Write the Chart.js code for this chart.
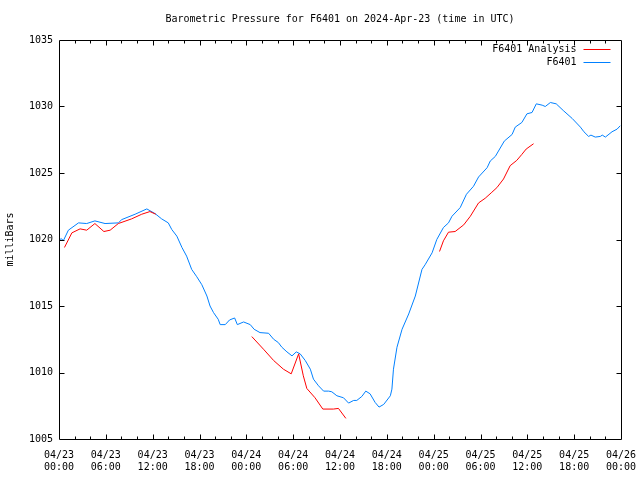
<!DOCTYPE html>
<html>
<head>
<meta charset="utf-8">
<script src="https://cdn.jsdelivr.net/npm/chart.js@4"></script>
<style>
  html, body { margin: 0; padding: 0; background: #fff; }
  #wrap { width: 640px; height: 480px; }
</style>
</head>
<body>
<div id="wrap"><canvas id="pressureChart" width="640" height="480"></canvas></div>
<script>
// hours since 2024-04-23 00:00 UTC
const stationHours = [0, 0.35, 0.55, 1.2, 2.5, 3.55, 4.6, 5.9, 7.6, 8.05, 9.75, 11.25, 12.3, 13.15, 14.0, 14.45,
    15.1, 15.75, 16.35, 17.0, 17.65, 18.3, 18.95, 19.35, 19.8, 20.4, 20.65, 21.3, 21.85, 22.5, 22.85, 23.65,
    24.5, 25.0, 25.75, 26.85, 27.5, 28.1, 28.55, 29.2, 29.85, 30.4, 30.9, 31.55, 32.2, 32.6, 33.25, 33.9,
    34.55, 34.95, 35.6, 36.45, 37.1, 37.75, 38.15, 38.8, 39.3, 39.85, 40.5, 41.0, 41.6, 42.45, 42.65, 42.85,
    43.3, 43.95, 44.8, 45.65, 46.5, 46.9, 47.8, 48.4, 49.25, 49.9, 50.35, 51.4, 52.2, 53.1, 53.75, 54.85,
    55.25, 55.9, 57.05, 58.05, 58.45, 59.3, 59.95, 60.6, 61.15, 61.9, 62.3, 62.95, 63.7, 64.6, 65.75, 66.8,
    67.25, 67.85, 68.15, 68.7, 69.35, 69.6, 70.0, 70.85, 71.5, 71.9];
const stationPressure = [1020.0, 1020.05, 1019.9, 1020.7, 1021.25, 1021.2, 1021.4, 1021.2, 1021.25, 1021.5, 1021.9, 1022.3, 1021.95, 1021.55, 1021.25, 1020.75,
    1020.25, 1019.4, 1018.75, 1017.75, 1017.2, 1016.6, 1015.75, 1015.0, 1014.5, 1014.0, 1013.6, 1013.6, 1013.95, 1014.1, 1013.6, 1013.8,
    1013.6, 1013.25, 1013.0, 1012.95, 1012.5, 1012.25, 1011.9, 1011.55, 1011.25, 1011.55, 1011.4, 1010.9, 1010.25, 1009.5, 1009.0, 1008.6,
    1008.6, 1008.55, 1008.25, 1008.1, 1007.7, 1007.9, 1007.9, 1008.2, 1008.6, 1008.4, 1007.75, 1007.4, 1007.6, 1008.25, 1008.75, 1010.25,
    1011.9, 1013.25, 1014.4, 1015.75, 1017.75, 1018.1, 1019.0, 1020.0, 1020.9, 1021.25, 1021.75, 1022.4, 1023.4, 1024.0, 1024.7, 1025.4,
    1025.9, 1026.25, 1027.4, 1027.9, 1028.45, 1028.8, 1029.45, 1029.55, 1030.2, 1030.1, 1030.0, 1030.3, 1030.2, 1029.7, 1029.1, 1028.45,
    1028.1, 1027.75, 1027.85, 1027.7, 1027.75, 1027.85, 1027.7, 1028.1, 1028.3, 1028.55];

// analysis runs, null marks a break between runs
const analysisHours = [0.7, 1.65, 2.7, 3.55, 4.6, 5.75, 6.55, 7.6, 9.3, 10.6, 11.65, 12.4,
    18,
    24.7, 26.2, 27.5, 28.75, 29.75, 30.7, 31.3, 31.75, 32.8, 33.8, 35.15, 35.8, 36.75,
    42,
    48.75, 49.25, 49.9, 50.75, 51.85, 52.7, 53.75, 54.6, 55.45, 56.1, 56.95, 57.8, 58.65, 59.3, 59.85, 60.8];
const analysisPressure = [1019.4, 1020.5, 1020.8, 1020.7, 1021.2, 1020.6, 1020.7, 1021.2, 1021.55, 1021.9, 1022.1, 1021.9,
    null,
    1012.7, 1011.75, 1010.9, 1010.25, 1009.9, 1011.4, 1009.75, 1008.8, 1008.1, 1007.25, 1007.25, 1007.3, 1006.55,
    null,
    1019.1, 1019.9, 1020.55, 1020.6, 1021.1, 1021.75, 1022.75, 1023.1, 1023.55, 1023.9, 1024.55, 1025.55, 1025.95, 1026.4, 1026.8, 1027.2];

const tickDates = ["04/23", "04/23", "04/23", "04/23", "04/24", "04/24", "04/24", "04/24", "04/25", "04/25", "04/25", "04/25", "04/26"];
const tickTimes = ["00:00", "06:00", "12:00", "18:00", "00:00", "06:00", "12:00", "18:00", "00:00", "06:00", "12:00", "18:00", "00:00"];

const chartTitle = "Barometric Pressure for F6401 on 2024-Apr-23 (time in UTC)";
const monoFont = "'DejaVu Sans Mono', 'Liberation Mono', monospace";

function toPoints(xs, ys) {
    return xs.map((x, i) => ({ x: x, y: ys[i] }));
}

// gnuplot style frame, inward ticks, title over the plot and the key in the top right corner
const framePlugin = {
    id: "frame",
    afterDatasetsDraw(chart) {
        const ctx = chart.ctx;
        const area = chart.chartArea;
        const xs = chart.scales.x;
        const ys = chart.scales.y;
        const l = Math.round(area.left) + 0.5;
        const r = Math.round(area.right) + 0.5;
        const t = Math.round(area.top) + 0.5;
        const b = Math.round(area.bottom) + 0.5;

        ctx.save();
        ctx.strokeStyle = "#000";
        ctx.lineWidth = 1;
        ctx.beginPath();
        ctx.rect(l, t, r - l, b - t);

        for (let h = 2; h < 72; h += 2) {
            const px = Math.round(xs.getPixelForValue(h)) + 0.5;
            const len = h % 6 === 0 ? 5 : 3;
            ctx.moveTo(px, b);
            ctx.lineTo(px, b - len);
            ctx.moveTo(px, t);
            ctx.lineTo(px, t + len);
        }
        for (let p = 1010; p < 1035; p += 5) {
            const py = Math.round(ys.getPixelForValue(p)) + 0.5;
            ctx.moveTo(l, py);
            ctx.lineTo(l + 5, py);
            ctx.moveTo(r, py);
            ctx.lineTo(r - 5, py);
        }
        ctx.stroke();

        ctx.font = "10px " + monoFont;
        ctx.fillStyle = "#000";
        ctx.textBaseline = "middle";
        ctx.textAlign = "center";
        ctx.fillText(chartTitle, (area.left + area.right) / 2, 19);

        ctx.textAlign = "right";
        chart.data.datasets.forEach((ds, i) => {
            const y = Math.round(area.top) + 9 + i * 13 + 0.5;
            ctx.fillStyle = "#000";
            ctx.fillText(ds.label, r - 45, y);
            ctx.strokeStyle = ds.borderColor;
            ctx.beginPath();
            ctx.moveTo(r - 38, y);
            ctx.lineTo(r - 11, y);
            ctx.stroke();
        });
        ctx.restore();
    }
};

new Chart(document.getElementById("pressureChart"), {
    type: "line",
    data: {
        datasets: [
            {
                label: "F6401 Analysis",
                data: toPoints(analysisHours, analysisPressure),
                borderColor: "#ff0000",
                borderWidth: 1,
                pointRadius: 0,
                spanGaps: false,
                tension: 0
            },
            {
                label: "F6401",
                data: toPoints(stationHours, stationPressure),
                borderColor: "#0080ff",
                borderWidth: 1,
                pointRadius: 0,
                tension: 0
            }
        ]
    },
    options: {
        responsive: false,
        animation: false,
        layout: { padding: { left: 0, right: 19, top: 40, bottom: 0 } },
        plugins: {
            legend: { display: false },
            tooltip: { enabled: false },
            title: { display: false }
        },
        scales: {
            x: {
                type: "linear",
                min: 0,
                max: 72,
                grid: { display: false, drawTicks: false },
                border: { display: false },
                afterFit(scale) {
                    scale.height = 41;
                    scale.paddingLeft = 0;
                    scale.paddingRight = 0;
                },
                afterBuildTicks(scale) {
                    scale.ticks = tickDates.map((d, i) => ({ value: i * 6 }));
                },
                ticks: {
                    color: "#000",
                    maxRotation: 0,
                    autoSkip: false,
                    padding: 10,
                    font: { family: monoFont, size: 10, lineHeight: 1.2 },
                    callback: (v) => [tickDates[v / 6], tickTimes[v / 6]]
                }
            },
            y: {
                min: 1005,
                max: 1035,
                grid: { display: false, drawTicks: false },
                border: { display: false },
                afterFit(scale) {
                    scale.width = 59;
                    scale.paddingTop = 0;
                    scale.paddingBottom = 0;
                },
                ticks: {
                    stepSize: 5,
                    color: "#000",
                    padding: 6,
                    font: { family: monoFont, size: 10 },
                    callback: (v) => String(v)
                },
                title: {
                    display: true,
                    text: "milliBars",
                    color: "#000",
                    font: { family: monoFont, size: 10 },
                    padding: { top: 4, bottom: 0 }
                }
            }
        }
    },
    plugins: [framePlugin]
});
</script>
</body>
</html>
